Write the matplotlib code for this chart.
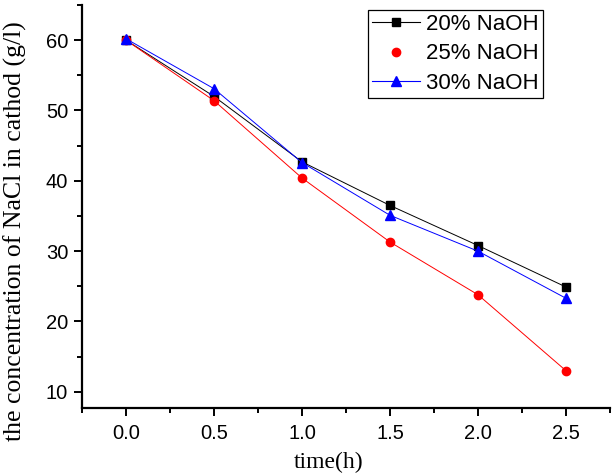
import matplotlib
matplotlib.use('Agg')
import matplotlib.pyplot as plt
from matplotlib.lines import Line2D
from matplotlib.ticker import MultipleLocator

time_h = [0.0, 0.5, 1.0, 1.5, 2.0, 2.5]
naoh_20 = [60.0, 52.0, 42.7, 36.5, 30.8, 24.9]
naoh_25 = [60.0, 51.4, 40.4, 31.3, 23.8, 13.0]
naoh_30 = [60.2, 53.1, 42.6, 35.1, 30.0, 23.3]
labels = ["20% NaOH", "25% NaOH", "30% NaOH"]

W, H = 612, 474
fig = plt.figure(figsize=(W / 100, H / 100), dpi=100)
ax = fig.add_axes([82 / W, 1 - 408 / H, (610 - 82) / W, (408 - 5) / H])

ax.plot(time_h, naoh_20, color='black', lw=0.7, marker='s', ms=6)
ax.plot(time_h, naoh_25, color='red', lw=0.7, marker='o', ms=6)
ax.plot(time_h, naoh_30, color='blue', lw=0.7, marker='^', ms=7)

ax.set_xlim(-0.25, 2.75)
ax.set_ylim(7.7, 65)
ax.xaxis.set_major_locator(MultipleLocator(0.5))
ax.xaxis.set_minor_locator(MultipleLocator(0.25))
ax.yaxis.set_major_locator(MultipleLocator(10))
ax.yaxis.set_minor_locator(MultipleLocator(5))
ax.set_yticks([10, 20, 30, 40, 50, 60])
ax.set_xticks([0.0, 0.5, 1.0, 1.5, 2.0, 2.5])
ax.set_xticklabels(['0.0', '0.5', '1.0', '1.5', '2.0', '2.5'])

for s in ['top', 'right']:
    ax.spines[s].set_visible(False)
for s in ['left', 'bottom']:
    ax.spines[s].set_linewidth(1.6)

ax.tick_params(which='major', direction='out', length=6, width=1.4, labelsize=14.5)
ax.tick_params(axis='x', which='major', pad=5.5)
ax.tick_params(axis='y', which='major', pad=4)
ax.tick_params(which='minor', direction='out', length=3.5, width=1.4)
for lab in ax.get_xticklabels() + ax.get_yticklabels():
    lab.set_family('Liberation Sans')

ax.set_xlabel("time(h)", family='Liberation Serif', fontsize=17)
ax.xaxis.set_label_coords(329 / W, 1 - 468 / H, transform=fig.transFigure)
ax.xaxis.label.set_va('baseline')
ax.set_ylabel("the concentration of NaCl in cathod (g/l)", family='Liberation Serif',
              fontsize=18.5)
ax.yaxis.set_label_coords(15 / W, 1 - 231 / H, transform=fig.transFigure)
ax.yaxis.label.set_va('center')

handles = [
    Line2D([], [], color='black', lw=0.8, marker='s', ms=6),
    Line2D([], [], color='red', lw=0, marker='o', ms=6),
    Line2D([], [], color='blue', lw=0.8, marker='^', ms=7),
]
leg = ax.legend(handles, labels, loc='upper right', bbox_to_anchor=(543 / W, 1 - 10 / H),
                bbox_transform=fig.transFigure, borderaxespad=0, fancybox=False,
                framealpha=1, edgecolor='black', prop={'family': 'Liberation Sans', 'size': 16},
                handlelength=2.15, handletextpad=0.3, labelspacing=0.38, borderpad=0.18)
leg.get_frame().set_linewidth(0.9)

fig.savefig('out.png', dpi=100)
